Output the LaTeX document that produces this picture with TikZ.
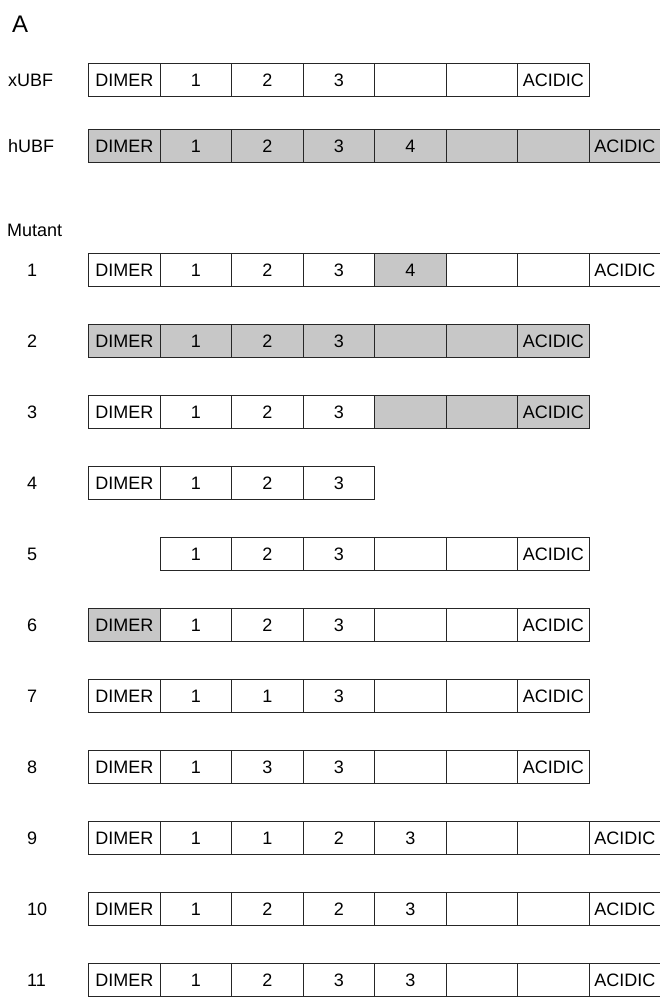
\documentclass[tikz,border=0pt]{standalone}
\usepackage{fontspec}
\setmainfont{Liberation Sans}
\usetikzlibrary{positioning}

\tikzset{
    cell/.style={draw=black!85, line width=1.1pt, minimum width=71.5pt, minimum height=33pt,
        inner sep=0pt, anchor=west, font=\fontsize{18}{20}\selectfont},
    greycell/.style={cell, fill=black!22},
    rowlabel/.style={anchor=west, inner sep=0pt, font=\fontsize{18}{20}\selectfont}
}

\begin{document}
\begin{tikzpicture}[x=1pt, y=-1pt]
    \useasboundingbox (0,0) rectangle (659,998);
    % Panel letter
    \node[anchor=west, inner sep=0pt, font=\fontsize{24}{26}\selectfont] (panel) at (12,24) {A};

    % xUBF
    \node[rowlabel] (xlab) at (8,80) {xUBF};
    \foreach \i/\t/\s in {1/DIMER/cell, 2/1/cell, 3/2/cell, 4/3/cell, 5//cell, 6//cell, 7/ACIDIC/cell}
        \node[style=\s] (x-\i) at ({88+71.5*(\i-1)},80) {\t};

    % hUBF
    \node[rowlabel] (hlab) at (8,146) {hUBF};
    \foreach \i/\t/\s in {1/DIMER/greycell, 2/1/greycell, 3/2/greycell, 4/3/greycell, 5/4/greycell, 6//greycell, 7//greycell, 8/ACIDIC/greycell}
        \node[style=\s] (h-\i) at ({88+71.5*(\i-1)},146) {\t};

    % Mutants
    \node[rowlabel] (mlab) at (7,230) {Mutant};

    % Mutant 1
    \node[rowlabel] (m1) at (27,270) {1};
    \foreach \i/\t/\s in {1/DIMER/cell, 2/1/cell, 3/2/cell, 4/3/cell, 5/4/greycell, 6//cell, 7//cell, 8/ACIDIC/cell}
        \node[style=\s] (a-\i) at ({88+71.5*(\i-1)},270) {\t};

    % Mutant 2
    \node[rowlabel] (m2) at (27,341) {2};
    \foreach \i/\t/\s in {1/DIMER/greycell, 2/1/greycell, 3/2/greycell, 4/3/greycell, 5//greycell, 6//greycell, 7/ACIDIC/greycell}
        \node[style=\s] (b-\i) at ({88+71.5*(\i-1)},341) {\t};

    % Mutant 3
    \node[rowlabel] (m3) at (27,412) {3};
    \foreach \i/\t/\s in {1/DIMER/cell, 2/1/cell, 3/2/cell, 4/3/cell, 5//greycell, 6//greycell, 7/ACIDIC/greycell}
        \node[style=\s] (c-\i) at ({88+71.5*(\i-1)},412) {\t};

    % Mutant 4
    \node[rowlabel] (m4) at (27,483) {4};
    \foreach \i/\t/\s in {1/DIMER/cell, 2/1/cell, 3/2/cell, 4/3/cell}
        \node[style=\s] (d-\i) at ({88+71.5*(\i-1)},483) {\t};

    % Mutant 5 - no dimer
    \node[rowlabel] (m5) at (27,554) {5};
    \foreach \i/\t/\s in {2/1/cell, 3/2/cell, 4/3/cell, 5//cell, 6//cell, 7/ACIDIC/cell}
        \node[style=\s] (e-\i) at ({88+71.5*(\i-1)},554) {\t};

    % Mutant 6
    \node[rowlabel] (m6) at (27,625) {6};
    \foreach \i/\t/\s in {1/DIMER/greycell, 2/1/cell, 3/2/cell, 4/3/cell, 5//cell, 6//cell, 7/ACIDIC/cell}
        \node[style=\s] (f-\i) at ({88+71.5*(\i-1)},625) {\t};

    % Mutant 7
    \node[rowlabel] (m7) at (27,696) {7};
    \foreach \i/\t/\s in {1/DIMER/cell, 2/1/cell, 3/1/cell, 4/3/cell, 5//cell, 6//cell, 7/ACIDIC/cell}
        \node[style=\s] (g-\i) at ({88+71.5*(\i-1)},696) {\t};

    % Mutant 8
    \node[rowlabel] (m8) at (27,767) {8};
    \foreach \i/\t/\s in {1/DIMER/cell, 2/1/cell, 3/3/cell, 4/3/cell, 5//cell, 6//cell, 7/ACIDIC/cell}
        \node[style=\s] (k-\i) at ({88+71.5*(\i-1)},767) {\t};

    % Mutant 9
    \node[rowlabel] (m9) at (27,838) {9};
    \foreach \i/\t/\s in {1/DIMER/cell, 2/1/cell, 3/1/cell, 4/2/cell, 5/3/cell, 6//cell, 7//cell, 8/ACIDIC/cell}
        \node[style=\s] (l-\i) at ({88+71.5*(\i-1)},838) {\t};

    % Mutant 10
    \node[rowlabel] (m10) at (27,909) {10};
    \foreach \i/\t/\s in {1/DIMER/cell, 2/1/cell, 3/2/cell, 4/2/cell, 5/3/cell, 6//cell, 7//cell, 8/ACIDIC/cell}
        \node[style=\s] (n-\i) at ({88+71.5*(\i-1)},909) {\t};

    % Mutant 11
    \node[rowlabel] (m11) at (27,980) {11};
    \foreach \i/\t/\s in {1/DIMER/cell, 2/1/cell, 3/2/cell, 4/3/cell, 5/3/cell, 6//cell, 7//cell, 8/ACIDIC/cell}
        \node[style=\s] (p-\i) at ({88+71.5*(\i-1)},980) {\t};
\end{tikzpicture}
\end{document}
